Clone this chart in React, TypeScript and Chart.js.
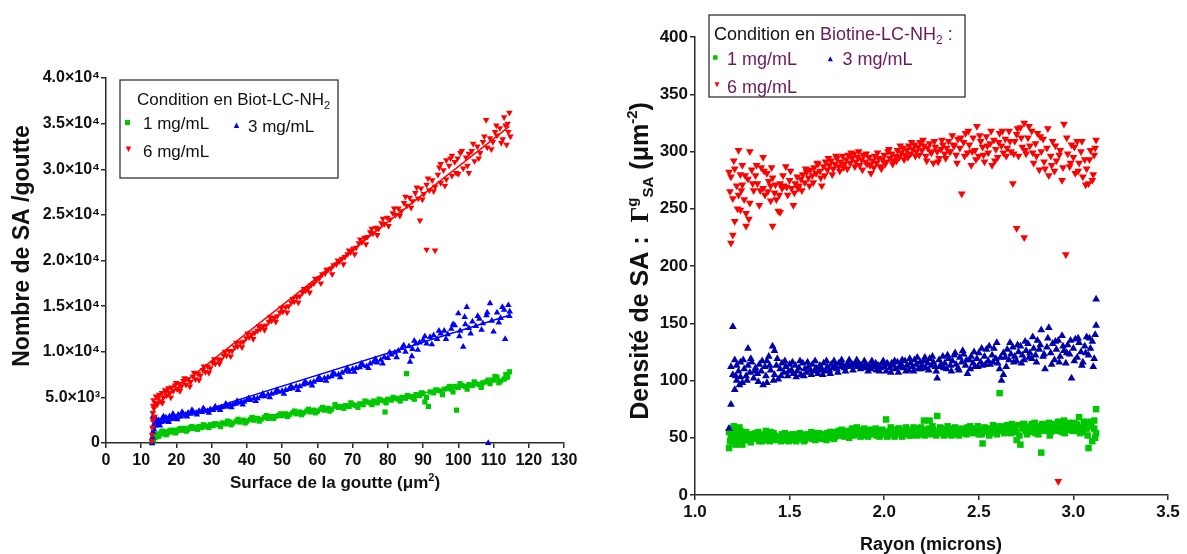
import React, { useEffect, useRef } from 'react';
import { Chart, registerables } from 'chart.js';
Chart.register(...registerables);

const FONT = "'Liberation Sans', Arial, Helvetica, sans-serif";
const SERIF = "'Liberation Serif', 'Times New Roman', serif";

// ---------- Left chart: Nombre de SA / goutte vs Surface ----------
const leftXTickLabels = ['0','10','20','30','40','50','60','70','80','90','100','110','120','130'];
const leftYTickLabels = ['0','5.0×10³','1.0×10⁴','1.5×10⁴','2.0×10⁴','2.5×10⁴','3.0×10⁴','3.5×10⁴','4.0×10⁴'];

const leftGreen: [number, number][] = [
  [13.1,0],[13.2,300],[13.3,700],[13.5,400],[13.7,1000],[14.0,600],[14.4,900],[14.8,700],[15.2,1000],[15.7,1200],
  [16.2,1000],[16.8,1200],[17.4,1100],[18.0,1300],[18.7,1200],[19.4,1400],[20.1,1300],[20.8,1500],[21.6,1400],[22.4,1600],
  [23.2,1500],[24.0,1700],[24.8,1600],[25.6,1700],[26.4,1800],[27.2,1700],[28.0,1900],[28.8,1800],[29.6,2000],[30.4,1900],
  [31.2,2100],[32.0,2000],[33.0,2200],[34.0,2100],[35.0,2300],[36.0,2200],[37.0,2400],[38.0,2300],[39.0,2500],[40.0,2400],
  [41.0,2600],[42.0,2500],[43.0,2700],[44.0,2600],[45.0,2800],[46.0,2700],[47.0,2900],[48.0,2900],[49.0,3000],[50.0,3000],
  [51.0,3200],[52.0,3100],[53.0,3300],[54.0,3200],[55.0,3400],[56.0,3300],[57.0,3500],[58.0,3400],[59.0,3600],[60.0,3500],
  [61.0,3700],[62.0,3600],[63.0,3800],[64.0,3700],[65.0,4200],[66.0,3900],[67.0,4000],[68.0,4100],[69.0,4000],[70.0,4200],
  [71.0,4100],[72.0,4300],[73.0,4200],[74.0,4500],[75.0,4400],[76.0,4600],[77.0,4400],[78.0,4700],[79.0,4600],[79.2,3400],
  [80.0,4800],[81.0,4700],[82.0,4900],[83.0,4800],[84.0,5000],[85.0,4900],[85.3,7600],[86.0,5100],[87.0,5000],[88.0,5300],
  [89.0,5200],[90.0,5400],[90.5,4500],[91.5,4000],[92.0,5600],[93.0,5500],[94.0,5800],[95.0,5700],[96.0,5900],[97.0,6000],
  [98.0,5900],[99.0,6200],[99.5,3600],[100.0,6100],[101.0,6300],[102.0,6200],[103.0,6400],[104.0,6300],[105.0,6500],[106.0,6400],
  [107.0,6600],[108.0,6700],[109.0,6500],[110.0,6900],[110.4,7300],[111.0,7200],[112.0,6800],[113.0,7000],[114.0,7300],[114.5,7800]
];
const leftGreenExtra: [number, number][] = [
  [15.0,800],[16.0,1300],[17.1,900],[18.4,1400],[19.7,1100],[21.2,1600],[22.8,1300],[24.4,1800],[26.0,1500],[27.6,2000],
  [29.2,1700],[30.8,2100],[32.5,1800],[34.5,2400],[35.5,2000],[37.5,2600],[39.5,2200],[41.5,2800],[43.5,2400],[45.5,3000],
  [47.5,2700],[49.5,3200],[51.5,2900],[53.5,3500],[55.5,3100],[57.5,3700],[59.5,3300],[61.5,3900],[63.5,3500],[65.5,4000],
  [67.5,3800],[69.5,4400],[71.5,3900],[73.5,4600],[75.5,4200],[77.5,4800],[79.5,4400],[81.5,5000],[83.5,4600],[85.5,5200],
  [87.5,4800],[89.5,5500],[91.0,5000],[93.5,5800],[95.5,5300],[97.5,6200],[98.5,5600],[100.5,6500],[102.5,5900],[104.5,6700],
  [106.5,6100],[108.5,6900],[111.5,6600],[113.5,7500]
];

const leftBlue: [number, number][] = [
  [13.1,0],[13.2,600],[13.3,1200],[13.4,1800],[13.5,2500],[13.3,2900],[13.6,1500],[13.8,2200],[14.0,1900],[14.3,2600],
  [14.6,2100],[15.0,2500],[15.5,2300],[16.0,2700],[16.5,2400],[17.0,2800],[17.5,2600],[18.0,2900],[18.6,2700],[19.2,3000],
  [19.8,2800],[20.5,3100],[21.2,2900],[21.9,3200],[22.6,3100],[23.3,3300],[24.0,3200],[24.8,3400],[25.6,3300],[26.4,3500],
  [27.2,3400],[28.0,3600],[28.8,3500],[29.6,3700],[30.4,3600],[31.2,3800],[32.0,3800],[32.8,3900],[33.6,4000],[34.4,4000],
  [35.2,4200],[36.0,4200],[36.8,4300],[37.6,4400],[38.4,4500],[39.2,4500],[40.0,4700],[41.0,4700],[42.0,4900],[43.0,4900],
  [44.0,5100],[45.0,5100],[46.0,5300],[47.0,5400],[48.0,5500],[49.0,5600],[50.0,5700],[51.0,5800],[52.0,5900],[53.0,6000],
  [54.0,6200],[55.0,6200],[56.0,6400],[57.0,6500],[58.0,6600],[59.0,6700],[60.0,6900],[61.0,6900],[62.0,7100],[63.0,7200],
  [64.0,7300],[65.0,7500],[66.0,7500],[67.0,7700],[68.0,7900],[69.0,7800],[70.0,8100],[71.0,8200],[72.0,8300],[73.0,8500],
  [74.0,8400],[75.0,8700],[76.0,8900],[77.0,8800],[78.0,9100],[79.0,9400],[80.0,9300],[81.0,9700],[82.0,9900],[83.0,10100],
  [84.0,10400],[85.0,10000],[86.0,10600],[86.3,8900],[86.8,9500],[87.0,10300],[88.0,10900],[89.0,11000],[90.0,11300],[91.0,10900],
  [92.0,11600],[93.0,11800],[94.0,11400],[95.0,12000],[96.0,12300],[97.0,11900],[98.0,12500],[99.0,12900],[100.0,14200],[100.5,12300],
  [101.4,10550],[102.0,13000],[102.4,14900],[103.0,12600],[104.0,13300],[105.0,12800],[106.0,13600],[107.0,13100],[108.0,14000],[108.5,0],
  [109.0,15300],[109.5,13400],[110.0,12200],[111.0,14300],[112.0,13700],[113.3,11400],[113.0,14600],[114.2,15100],[114.5,13900]
];
const leftBlueExtra: [number, number][] = [
  [15.3,1900],[16.3,2900],[17.8,2300],[19.0,3200],[20.2,2600],[21.6,3400],[23.0,2900],[24.4,3600],[25.8,3100],[27.6,3800],
  [29.2,3300],[31.0,4000],[32.4,3600],[34.0,4300],[35.6,3900],[37.2,4600],[38.8,4200],[40.5,4900],[42.5,4600],[44.5,5400],
  [46.5,5000],[48.5,5800],[50.5,5400],[52.5,6200],[54.5,5800],[56.5,6700],[58.5,6300],[60.5,7200],[62.5,6800],[64.5,7700],
  [66.5,7200],[68.5,8200],[70.5,7800],[72.5,8700],[74.5,8200],[76.5,9200],[78.5,8700],[80.5,9900],[82.5,9400],[84.5,10700],
  [87.5,11200],[88.5,10200],[90.5,11700],[92.5,10800],[94.5,12300],[96.5,11400],[98.5,13000],[100.3,11700],[101.8,13800],[103.5,12000],
  [105.5,13900],[106.6,12400],[108.2,14300],[111.5,13200],[112.5,14900],[114.6,14400]
];

const leftRed: [number, number][] = [
  [13.0,200],[13.1,900],[13.2,1700],[13.3,2500],[13.3,3300],[13.4,4100],[13.5,4700],[13.6,3800],[13.8,2900],[14.0,4400],
  [14.2,5100],[14.5,4200],[14.8,4900],[15.1,5300],[15.5,4600],[15.9,5500],[16.3,5000],[16.8,5800],[17.2,5200],[17.7,6000],
  [18.1,5500],[18.6,6100],[19.1,5700],[19.6,6300],[20.2,5900],[20.8,6500],[21.4,6200],[22.0,6800],[22.7,6400],[23.3,7000],
  [24.0,6700],[24.7,7300],[25.4,7000],[26.1,7600],[26.8,7400],[27.5,8000],[28.2,7800],[28.9,8400],[29.6,8200],[30.3,8800],
  [31.0,8700],[31.8,9200],[32.6,9100],[33.4,9600],[34.2,9600],[35.0,10100],[35.8,10100],[36.6,10500],[37.4,10600],[38.2,11000],
  [39.0,11100],[39.8,11500],[40.6,11600],[41.4,11900],[42.2,12100],[43.0,12300],[43.8,12500],[44.6,12800],[45.4,12900],[46.2,13300],
  [47.0,13400],[47.8,13700],[48.6,13900],[49.4,14300],[50.2,14400],[51.0,14900],[51.8,15000],[52.6,15400],[53.4,15500],[54.2,16000],
  [55.0,16100],[55.8,16500],[56.6,16700],[57.4,17000],[58.2,17300],[59.0,17500],[59.8,17900],[60.6,18100],[61.4,18500],[62.2,18600],
  [63.0,19000],[63.8,19100],[64.6,19500],[65.4,19600],[66.2,19900],[67.0,20200],[67.8,20400],[68.6,20700],[69.4,20900],[70.2,21300],
  [71.0,21400],[71.8,21900],[72.6,22000],[73.4,22500],[74.2,22600],[75.0,23100],[75.8,23000],[76.6,23600],[77.4,23500],[78.2,24100],
  [79.0,24000],[79.8,24700],[80.6,24500],[81.4,25200],[82.2,25000],[83.0,25700],[83.8,25400],[84.6,26300],[85.4,26000],[86.2,26900],
  [87.0,26500],[87.8,27400],[88.6,26800],[89.1,24400],[89.4,27900],[90.2,27300],[91.0,21200],[91.0,28300],[91.8,27700],[92.6,28800],
  [93.4,21100],[93.4,28100],[94.2,29400],[95.0,30600],[95.0,28500],[95.8,29900],[96.6,31000],[96.6,28900],[97.4,30400],[98.2,31500],
  [98.2,29300],[99.0,30800],[99.8,31200],[100.0,29500],[100.6,31800],[101.4,30100],[102.2,31300],[103.0,31700],[103.0,29600],[103.8,32000],
  [104.6,30900],[105.4,32500],[106.2,31800],[107.0,33000],[107.9,35400],[108.2,32400],[109.0,33400],[109.8,33000],[110.4,34100],[111.0,33700],
  [111.8,34500],[112.6,33300],[113.4,34800],[113.7,32700],[114.0,35000],[114.5,36200],[114.8,33600]
];
const leftRedExtra: [number, number][] = [
  [16.0,4400],[17.0,5600],[18.4,5000],[19.9,6600],[21.0,5700],[22.3,7100],[23.8,6200],[25.0,7700],[26.4,6900],[27.8,8400],
  [29.2,7700],[30.7,9200],[32.2,8700],[33.8,10000],[35.4,9500],[37.0,11000],[38.6,10500],[40.2,12000],[41.8,11400],[43.4,12800],
  [45.0,12400],[46.6,13800],[48.2,13300],[49.8,14800],[51.4,14300],[53.0,15800],[54.6,15400],[56.2,16900],[57.8,16500],[59.4,18000],
  [61.0,17500],[62.6,19000],[64.2,18500],[65.8,20000],[67.4,19600],[69.0,21100],[70.6,20700],[72.2,22300],[73.8,21800],[75.4,23500],
  [77.0,22800],[78.6,24600],[80.2,23800],[81.8,25700],[83.4,24900],[85.0,27000],[86.6,25800],[88.2,28000],[89.8,26700],[91.4,29000],
  [93.0,27600],[94.6,30200],[96.2,28200],[97.8,31200],[99.4,29600],[101.0,32000],[102.6,30400],[104.2,32800],[105.8,31200],[107.4,33600],
  [109.4,32200],[110.8,34800],[112.2,32900],[113.0,35700],[114.2,34100]
];

const leftGreenFit: [number, number][] = [[13.2, 750], [114.5, 7000]];
const leftBlueFit: [number, number][] = [[13.2, 1800], [114.5, 14000]];
const leftRedFit: [number, number][] = [[13.2, 3900], [114.5, 34700]];

// ---------- Right chart: Densité de SA vs Rayon ----------
const rightXTickLabels = ['1.0','1.5','2.0','2.5','3.0','3.5'];
const rightYTickLabels = ['0','50','100','150','200','250','300','350','400'];

const rightGreen: [number, number][] = [
  [1.18,41],[1.18,55],[1.19,50],[1.19,58],[1.20,46],[1.20,53],[1.21,57],[1.22,49],[1.22,54],[1.23,51],[1.24,47],[1.24,56],[1.25,44],
  [1.25,52],[1.26,50],[1.27,55],[1.28,48],[1.29,53],[1.30,51],[1.31,49],[1.32,54],[1.33,50],[1.34,47],[1.35,52],[1.36,49],[1.37,53],
  [1.38,48],[1.39,51],[1.40,55],[1.41,49],[1.42,52],[1.43,48],[1.44,51],[1.45,50],[1.46,53],[1.47,48],[1.48,51],[1.49,49],[1.50,52],
  [1.51,50],[1.52,48],[1.53,53],[1.54,50],[1.55,49],[1.56,52],[1.57,51],[1.58,48],[1.59,53],[1.60,50],[1.61,52],[1.62,49],[1.63,51],
  [1.64,54],[1.65,50],[1.66,52],[1.67,49],[1.68,53],[1.69,51],[1.70,54],[1.71,50],[1.72,52],[1.73,55],[1.74,51],[1.75,53],[1.76,56],
  [1.77,52],[1.78,54],[1.79,51],[1.80,56],[1.81,53],[1.82,55],[1.83,58],[1.84,52],[1.85,56],[1.86,54],[1.87,57],[1.88,53],[1.89,55],
  [1.90,52],[1.91,56],[1.92,54],[1.93,57],[1.94,53],[1.95,55],[1.96,52],[1.97,56],[1.98,54],[1.99,57],[2.00,53],[2.01,55],[2.01,66],
  [2.02,52],[2.03,56],[2.04,54],[2.05,57],[2.06,53],[2.07,55],[2.08,58],[2.09,54],[2.10,56],[2.11,53],[2.12,57],[2.13,55],[2.14,52],
  [2.15,56],[2.16,54],[2.17,58],[2.18,55],[2.19,53],[2.20,57],[2.21,65],[2.22,54],[2.23,56],[2.24,65],[2.25,53],[2.26,57],[2.27,55],
  [2.28,69],[2.29,54],[2.30,58],[2.31,55],[2.32,53],[2.33,57],[2.34,55],[2.35,58],[2.36,54],[2.37,56],[2.38,53],[2.39,57],[2.40,55],
  [2.41,58],[2.42,54],[2.43,56],[2.44,59],[2.45,55],[2.46,57],[2.47,54],[2.48,58],[2.49,56],[2.50,53],[2.51,57],[2.52,45],[2.53,59],
  [2.54,55],[2.55,58],[2.56,54],[2.57,57],[2.58,60],[2.59,55],[2.60,58],[2.61,89],[2.62,56],[2.63,59],[2.64,55],[2.65,61],[2.66,57],
  [2.67,54],[2.68,60],[2.69,57],[2.70,48],[2.71,61],[2.72,44],[2.73,58],[2.74,62],[2.75,56],[2.76,59],[2.77,55],[2.78,62],[2.79,58],
  [2.80,54],[2.81,60],[2.82,57],[2.83,37],[2.84,61],[2.85,56],[2.86,59],[2.87,63],[2.88,55],[2.89,60],[2.90,57],[2.91,62],[2.92,64],
  [2.93,58],[2.94,55],[2.95,65],[2.96,60],[2.97,57],[2.98,62],[2.99,58],[3.00,63],[3.01,56],[3.02,61],[3.03,68],[3.04,59],[3.05,55],
  [3.06,62],[3.07,58],[3.08,41],[3.09,64],[3.10,47],[3.11,58],[3.12,54],[3.12,75],[3.11,65]
];
const rightGreenExtra: [number, number][] = [
  [1.185,47],[1.205,60],[1.215,44],[1.235,59],[1.255,48],[1.275,51],[1.295,46],[1.315,53],[1.335,55],[1.355,47],[1.375,56],[1.395,47],
  [1.415,54],[1.435,50],[1.455,47],[1.475,54],[1.495,47],[1.515,53],[1.535,47],[1.555,54],[1.575,47],[1.595,51],[1.615,55],[1.635,48],
  [1.655,54],[1.675,51],[1.695,48],[1.715,55],[1.735,49],[1.755,52],[1.775,57],[1.795,53],[1.815,50],[1.835,54],[1.855,59],[1.875,51],
  [1.895,58],[1.915,51],[1.935,55],[1.955,58],[1.975,51],[1.995,55],[2.015,51],[2.035,59],[2.055,51],[2.075,58],[2.095,51],[2.115,59],
  [2.135,52],[2.155,59],[2.175,52],[2.195,59],[2.215,52],[2.235,58],[2.255,60],[2.275,52],[2.295,59],[2.315,52],[2.335,60],[2.355,52],
  [2.375,59],[2.395,52],[2.415,55],[2.435,53],[2.455,60],[2.475,57],[2.495,60],[2.515,53],[2.535,56],[2.555,52],[2.575,61],[2.595,53],
  [2.615,60],[2.635,54],[2.655,58],[2.675,62],[2.695,55],[2.715,52],[2.735,62],[2.755,53],[2.775,60],[2.795,63],[2.815,53],[2.835,62],
  [2.855,58],[2.875,52],[2.895,62],[2.915,56],[2.935,61],[2.955,54],[2.975,63],[2.995,56],[3.015,62],[3.035,54],[3.055,64],[3.075,52],
  [3.095,60],[3.115,50]
];

const rightBlue: [number, number][] = [
  [1.18,58],[1.19,79],[1.19,112],[1.20,147],[1.20,105],[1.21,92],[1.21,118],[1.22,100],[1.22,113],[1.23,108],[1.24,103],[1.24,116],
  [1.25,98],[1.26,110],[1.27,104],[1.28,128],[1.28,113],[1.29,107],[1.30,116],[1.31,102],[1.32,111],[1.33,106],[1.34,114],[1.35,108],
  [1.36,96],[1.37,112],[1.38,98],[1.38,117],[1.39,121],[1.40,109],[1.41,130],[1.42,126],[1.42,105],[1.43,113],[1.44,101],[1.45,110],
  [1.46,115],[1.47,107],[1.48,112],[1.49,104],[1.50,114],[1.51,109],[1.52,106],[1.53,113],[1.54,108],[1.55,111],[1.56,105],[1.57,115],
  [1.58,110],[1.59,107],[1.60,112],[1.61,109],[1.62,114],[1.63,108],[1.64,111],[1.65,106],[1.66,113],[1.67,110],[1.68,115],[1.69,108],
  [1.70,112],[1.71,109],[1.72,114],[1.73,111],[1.74,113],[1.75,110],[1.76,115],[1.77,112],[1.78,114],[1.79,111],[1.80,113],[1.81,115],
  [1.82,112],[1.83,114],[1.84,113],[1.85,115],[1.86,112],[1.87,114],[1.88,113],[1.89,111],[1.90,114],[1.91,112],[1.92,113],[1.93,110],
  [1.94,114],[1.95,112],[1.96,109],[1.97,113],[1.98,111],[1.99,115],[2.00,112],[2.01,108],[2.02,114],[2.03,111],[2.04,115],[2.05,113],
  [2.06,110],[2.07,116],[2.08,112],[2.09,114],[2.10,111],[2.11,117],[2.12,113],[2.13,109],[2.14,115],[2.15,112],[2.16,118],[2.17,114],
  [2.18,110],[2.19,116],[2.20,113],[2.21,117],[2.22,111],[2.23,115],[2.24,119],[2.25,113],[2.26,116],[2.27,112],[2.28,102],[2.29,118],
  [2.30,114],[2.31,121],[2.32,115],[2.33,110],[2.34,119],[2.35,113],[2.36,117],[2.37,122],[2.38,114],[2.39,111],[2.40,120],[2.41,116],
  [2.42,123],[2.43,113],[2.44,106],[2.45,118],[2.46,121],[2.47,115],[2.48,112],[2.49,119],[2.50,124],[2.51,116],[2.52,113],[2.53,121],
  [2.54,127],[2.55,117],[2.56,114],[2.57,122],[2.58,128],[2.59,119],[2.60,115],[2.61,110],[2.62,100],[2.63,105],[2.63,124],[2.64,120],
  [2.65,127],[2.66,118],[2.67,123],[2.68,129],[2.69,121],[2.70,117],[2.71,125],[2.72,130],[2.73,122],[2.74,118],[2.75,126],[2.76,132],
  [2.77,124],[2.78,119],[2.79,128],[2.80,122],[2.81,135],[2.82,127],[2.83,144],[2.84,121],[2.85,110],[2.86,129],[2.87,146],[2.88,124],
  [2.89,132],[2.90,118],[2.91,127],[2.92,135],[2.93,121],[2.94,139],[2.95,126],[2.96,115],[2.97,131],[2.98,123],[2.99,102],[3.00,128],
  [3.01,136],[3.02,120],[3.03,133],[3.04,125],[3.05,116],[3.06,130],[3.07,138],[3.08,122],[3.09,128],[3.10,134],[3.11,119],[3.12,148],
  [3.12,171]
];
const rightBlueExtra: [number, number][] = [
  [1.215,104],[1.235,96],[1.255,118],[1.275,100],[1.295,119],[1.315,108],[1.335,99],[1.355,117],[1.375,104],[1.395,113],[1.415,100],
  [1.435,119],[1.455,104],[1.475,117],[1.495,108],[1.515,116],[1.535,103],[1.555,117],[1.575,104],[1.595,116],[1.615,105],[1.635,117],
  [1.655,109],[1.675,105],[1.695,117],[1.715,106],[1.735,117],[1.755,107],[1.775,118],[1.795,108],[1.815,118],[1.835,109],[1.855,118],
  [1.875,110],[1.895,117],[1.915,108],[1.935,117],[1.955,115],[1.975,108],[1.995,117],[2.015,115],[2.035,107],[2.055,117],[2.075,107],
  [2.095,118],[2.115,108],[2.135,119],[2.155,108],[2.175,120],[2.195,110],[2.215,120],[2.235,109],[2.255,121],[2.275,108],[2.295,112],
  [2.315,111],[2.335,122],[2.355,108],[2.375,124],[2.395,109],[2.415,126],[2.435,118],[2.455,110],[2.475,125],[2.495,112],[2.515,128],
  [2.535,114],[2.555,130],[2.575,116],[2.595,133],[2.615,120],[2.645,112],[2.665,133],[2.685,116],[2.705,131],[2.725,115],[2.745,134],
  [2.765,120],[2.785,138],[2.805,116],[2.825,131],[2.845,123],[2.865,137],[2.885,114],[2.905,134],[2.925,116],[2.945,130],[2.965,124],
  [2.985,135],[3.005,117],[3.025,137],[3.045,113],[3.065,124],[3.085,137],[3.105,112],[3.115,140]
];

const rightRed: [number, number][] = [
  [1.18,282],[1.19,220],[1.19,278],[1.20,227],[1.20,259],[1.21,239],[1.21,285],[1.22,270],[1.23,301],[1.23,262],[1.24,280],[1.24,249],
  [1.25,288],[1.25,271],[1.26,258],[1.27,246],[1.27,235],[1.28,276],[1.29,300],[1.29,255],[1.30,284],[1.31,266],[1.32,279],[1.33,272],
  [1.34,253],[1.35,286],[1.36,295],[1.36,268],[1.37,262],[1.38,281],[1.39,274],[1.40,270],[1.40,257],[1.41,277],[1.41,235],[1.42,264],
  [1.43,258],[1.44,248],[1.45,247],[1.45,272],[1.46,268],[1.47,270],[1.48,287],[1.49,262],[1.50,275],[1.51,268],[1.52,253],[1.53,272],
  [1.54,278],[1.55,270],[1.56,276],[1.57,280],[1.58,273],[1.59,282],[1.60,277],[1.61,284],[1.62,279],[1.63,286],[1.64,281],[1.65,289],
  [1.66,283],[1.67,270],[1.68,287],[1.69,291],[1.70,284],[1.71,288],[1.72,292],[1.73,285],[1.74,289],[1.75,294],[1.76,287],[1.77,291],
  [1.78,296],[1.79,289],[1.80,293],[1.81,297],[1.82,290],[1.83,294],[1.84,298],[1.85,291],[1.86,295],[1.87,288],[1.88,293],[1.89,297],
  [1.90,291],[1.91,289],[1.92,295],[1.93,281],[1.94,292],[1.95,296],[1.96,290],[1.97,294],[1.98,287],[1.99,293],[2.00,297],[2.01,291],
  [2.02,300],[2.03,294],[2.04,298],[2.05,292],[2.06,296],[2.07,301],[2.08,295],[2.09,299],[2.10,303],[2.11,297],[2.12,301],[2.13,305],
  [2.14,298],[2.15,302],[2.16,306],[2.17,300],[2.18,304],[2.19,308],[2.20,301],[2.21,305],[2.22,296],[2.23,303],[2.24,307],[2.25,299],
  [2.26,290],[2.27,304],[2.28,300],[2.29,294],[2.30,302],[2.31,306],[2.32,298],[2.33,303],[2.34,309],[2.35,300],[2.36,314],[2.37,305],
  [2.38,297],[2.39,311],[2.40,303],[2.41,263],[2.42,308],[2.43,316],[2.44,299],[2.45,306],[2.46,288],[2.47,312],[2.48,301],[2.49,322],
  [2.50,296],[2.51,309],[2.52,304],[2.53,291],[2.54,313],[2.55,299],[2.56,307],[2.57,288],[2.58,310],[2.59,302],[2.60,295],[2.61,316],
  [2.62,305],[2.63,299],[2.64,311],[2.65,303],[2.66,318],[2.67,300],[2.68,272],[2.69,309],[2.70,233],[2.70,315],[2.71,296],[2.72,321],
  [2.73,304],[2.74,225],[2.74,325],[2.75,298],[2.76,312],[2.77,305],[2.78,318],[2.79,290],[2.80,307],[2.81,316],[2.82,284],[2.83,300],
  [2.84,311],[2.85,285],[2.86,303],[2.87,279],[2.88,296],[2.89,309],[2.90,283],[2.91,292],[2.92,12],[2.93,301],[2.94,275],[2.95,324],
  [2.96,210],[2.97,298],[2.98,287],[2.99,306],[3.00,295],[3.01,281],[3.02,309],[3.03,290],[3.04,300],[3.05,278],[3.06,293],[3.07,285],
  [3.08,272],[3.09,301],[3.10,275],[3.11,297],[3.12,310]
];
const rightRedExtra: [number, number][] = [
  [1.185,265],[1.205,292],[1.225,250],[1.245,266],[1.265,279],[1.285,241],[1.305,272],[1.325,288],[1.345,266],[1.365,283],[1.385,265],
  [1.405,286],[1.425,271],[1.445,262],[1.465,279],[1.485,269],[1.505,283],[1.525,264],[1.545,268],[1.565,266],[1.585,285],[1.605,270],
  [1.625,273],[1.645,290],[1.665,277],[1.685,279],[1.705,294],[1.725,280],[1.745,296],[1.765,283],[1.785,286],[1.805,285],[1.825,299],
  [1.845,287],[1.865,300],[1.885,284],[1.905,298],[1.925,288],[1.945,286],[1.965,299],[1.985,285],[2.005,289],[2.025,302],[2.045,289],
  [2.065,292],[2.085,305],[2.105,293],[2.125,295],[2.145,308],[2.165,296],[2.185,297],[2.205,310],[2.225,292],[2.245,300],[2.265,309],
  [2.285,291],[2.305,310],[2.325,294],[2.345,300],[2.365,306],[2.385,290],[2.405,312],[2.425,296],[2.445,318],[2.465,300],[2.485,293],
  [2.505,314],[2.525,297],[2.545,305],[2.565,318],[2.585,292],[2.605,308],[2.625,318],[2.645,296],[2.665,309],[2.685,298],[2.705,320],
  [2.725,312],[2.745,301],[2.765,322],[2.785,299],[2.805,296],[2.825,313],[2.845,291],[2.865,320],[2.885,288],[2.905,305],[2.925,297],
  [2.945,286],[2.965,312],[2.985,290],[3.005,304],[3.025,283],[3.045,309],[3.065,271],[3.085,293],[3.105,280],[3.115,303]
];

// ---------- colours ----------
const GREEN = 'rgb(0,200,0)';
const BLUE_L = 'rgb(0,0,255)';
const BLUE_R = 'rgb(0,0,170)';
const RED = 'rgb(255,0,0)';
const PURPLE = 'rgb(105,25,90)';
const AXIS = '#2a2a2a';
const TXT = '#111';

type Run = { t: string; size: number; bold?: boolean; family?: string; dy?: number; color?: string };
const runFont = (r: Run) => `${r.bold ? 'bold ' : ''}${r.size}px ${r.family || FONT}`;

function drawRuns(ctx: CanvasRenderingContext2D, runs: Run[], x: number, y: number, align: 'left' | 'center', rotate = false) {
  ctx.save();
  ctx.textBaseline = 'alphabetic';
  ctx.textAlign = 'left';
  let w = 0;
  for (const r of runs) { ctx.font = runFont(r); w += ctx.measureText(r.t).width; }
  ctx.translate(x, y);
  if (rotate) ctx.rotate(-Math.PI / 2);
  let cx = align === 'center' ? -w / 2 : 0;
  for (const r of runs) {
    ctx.font = runFont(r);
    ctx.fillStyle = r.color || TXT;
    ctx.fillText(r.t, cx, r.dy || 0);
    cx += ctx.measureText(r.t).width;
  }
  ctx.restore();
}

function marker(ctx: CanvasRenderingContext2D, kind: 'sq' | 'up' | 'down', x: number, y: number, s: number, color: string) {
  ctx.save();
  ctx.fillStyle = color;
  ctx.beginPath();
  if (kind === 'sq') {
    ctx.rect(x - s / 2, y - s / 2, s, s);
  } else if (kind === 'up') {
    ctx.moveTo(x, y - s * 0.55); ctx.lineTo(x + s / 2, y + s * 0.45); ctx.lineTo(x - s / 2, y + s * 0.45);
  } else {
    ctx.moveTo(x, y + s * 0.55); ctx.lineTo(x + s / 2, y - s * 0.45); ctx.lineTo(x - s / 2, y - s * 0.45);
  }
  ctx.closePath();
  ctx.fill();
  ctx.restore();
}

const pts = (a: [number, number][]) => a.map(([x, y]) => ({ x, y }));

function axisCommon(size: number, pad: number) {
  return {
    grid: { drawOnChartArea: false, drawTicks: true, tickLength: 5, color: AXIS, lineWidth: 1.5 },
    border: { display: true, color: AXIS, width: 1.5 },
    ticks: { font: { family: FONT, size, weight: 'bold' as const }, color: TXT, padding: pad, autoSkip: false, maxRotation: 0 },
  };
}

const leftDecor = {
  id: 'leftDecor',
  afterDraw(chart: any) {
    const ctx: CanvasRenderingContext2D = chart.ctx;
    drawRuns(ctx, [{ t: 'Nombre de SA /goutte', size: 23, bold: true }], 29, 246, 'center', true);
    drawRuns(ctx, [
      { t: 'Surface de la goutte (μm', size: 17, bold: true },
      { t: '2', size: 11, bold: true, dy: -7 },
      { t: ')', size: 17, bold: true },
    ], 335, 488, 'center');
    ctx.save();
    ctx.strokeStyle = '#333';
    ctx.lineWidth = 1.3;
    ctx.fillStyle = '#fff';
    ctx.fillRect(120, 80, 218, 98);
    ctx.strokeRect(120, 80, 218, 98);
    ctx.restore();
    drawRuns(ctx, [
      { t: 'Condition en Biot-LC-NH', size: 17 },
      { t: '2', size: 11, dy: 4 },
    ], 137, 105, 'left');
    marker(ctx, 'sq', 127.5, 122.5, 5, GREEN);
    drawRuns(ctx, [{ t: '1 mg/mL', size: 17 }], 143, 129, 'left');
    marker(ctx, 'up', 236.5, 125.5, 5.5, BLUE_L);
    drawRuns(ctx, [{ t: '3 mg/mL', size: 17 }], 248, 132, 'left');
    marker(ctx, 'down', 128.5, 149, 5.5, RED);
    drawRuns(ctx, [{ t: '6 mg/mL', size: 17 }], 143, 157, 'left');
  },
};

const rightDecor = {
  id: 'rightDecor',
  afterDraw(chart: any) {
    const ctx: CanvasRenderingContext2D = chart.ctx;
    drawRuns(ctx, [
      { t: 'Densité de SA :  ', size: 25, bold: true },
      { t: 'Γ', size: 25, bold: true, family: SERIF },
      { t: 'g', size: 15, bold: true, dy: -11 },
      { t: 'SA', size: 15, bold: true, dy: 5 },
      { t: ' (μm', size: 25, bold: true },
      { t: '-2', size: 15, bold: true, dy: -11 },
      { t: ')', size: 25, bold: true },
    ], 48, 261, 'center', true);
    drawRuns(ctx, [{ t: 'Rayon (microns)', size: 18, bold: true }], 331, 550, 'center');
    ctx.save();
    ctx.strokeStyle = '#333';
    ctx.lineWidth = 1.3;
    ctx.fillStyle = '#fff';
    ctx.fillRect(109, 15, 256, 82);
    ctx.strokeRect(109, 15, 256, 82);
    ctx.restore();
    drawRuns(ctx, [
      { t: 'Condition en ', size: 18 },
      { t: 'Biotine-LC-NH', size: 18, color: PURPLE },
      { t: '2', size: 12, dy: 4, color: PURPLE },
      { t: ' :', size: 18, color: PURPLE },
    ], 114, 40, 'left');
    marker(ctx, 'sq', 115.3, 57.5, 4.5, GREEN);
    drawRuns(ctx, [{ t: '1 mg/mL', size: 18, color: PURPLE }], 127, 65, 'left');
    marker(ctx, 'up', 230.3, 59, 5, BLUE_R);
    drawRuns(ctx, [{ t: '3 mg/mL', size: 18, color: PURPLE }], 242.5, 65, 'left');
    marker(ctx, 'down', 117, 84.5, 5, RED);
    drawRuns(ctx, [{ t: '6 mg/mL', size: 18, color: PURPLE }], 127, 93, 'left');
  },
};

function leftConfig(): any {
  const xa = axisCommon(16, 3);
  const ya = axisCommon(16, 1);
  return {
    type: 'scatter',
    data: {
      datasets: [
        { data: pts(leftRedFit), showLine: true, pointRadius: 0, borderColor: RED, borderWidth: 1.4, order: 2, clip: false },
        { data: pts(leftBlueFit), showLine: true, pointRadius: 0, borderColor: BLUE_L, borderWidth: 1.4, order: 2, clip: false },
        { data: pts(leftGreenFit), showLine: true, pointRadius: 0, borderColor: GREEN, borderWidth: 1.4, order: 2, clip: false },
        { label: '6 mg/mL', data: pts([...leftRed, ...leftRedExtra]), pointStyle: 'triangle', pointRotation: 180, pointRadius: 3.8, pointBackgroundColor: RED, pointBorderWidth: 0, order: 1, clip: false },
        { label: '3 mg/mL', data: pts([...leftBlue, ...leftBlueExtra]), pointStyle: 'triangle', pointRadius: 3.8, pointBackgroundColor: BLUE_L, pointBorderWidth: 0, order: 1, clip: false },
        { label: '1 mg/mL', data: pts([...leftGreen, ...leftGreenExtra]), pointStyle: 'rect', pointRadius: 3.7, pointBackgroundColor: GREEN, pointBorderWidth: 0, order: 1, clip: false },
      ],
    },
    options: {
      responsive: false,
      animation: false,
      events: [],
      devicePixelRatio: 1,
      layout: { padding: { top: 78, left: 0, right: 36, bottom: 71 } },
      plugins: { legend: { display: false }, tooltip: { enabled: false } },
      scales: {
        x: {
          type: 'linear', min: 0, max: 130,
          ...xa,
          ticks: { ...xa.ticks, stepSize: 10, callback: (v: number) => leftXTickLabels[Math.round(v / 10)] ?? '' },
          afterFit: (s: any) => { s.height = 40; },
        },
        y: {
          type: 'linear', min: 0, max: 40000,
          ...ya,
          ticks: { ...ya.ticks, stepSize: 5000, callback: (v: number) => leftYTickLabels[Math.round(v / 5000)] ?? '' },
          afterFit: (s: any) => { s.width = 106; },
        },
      },
    },
    plugins: [leftDecor],
  };
}

function rightConfig(): any {
  const xa = axisCommon(17, 2);
  const ya = axisCommon(17, 2);
  return {
    type: 'scatter',
    data: {
      datasets: [
        { label: '6 mg/mL', data: pts([...rightRed, ...rightRedExtra]), pointStyle: 'triangle', pointRotation: 180, pointRadius: 4.5, pointBackgroundColor: RED, pointBorderWidth: 0, clip: false },
        { label: '3 mg/mL', data: pts([...rightBlue, ...rightBlueExtra]), pointStyle: 'triangle', pointRadius: 4.5, pointBackgroundColor: BLUE_R, pointBorderWidth: 0, clip: false },
        { label: '1 mg/mL', data: pts([...rightGreen, ...rightGreenExtra]), pointStyle: 'rect', pointRadius: 4.6, pointBackgroundColor: GREEN, pointBorderWidth: 0, clip: false },
      ],
    },
    options: {
      responsive: false,
      animation: false,
      events: [],
      devicePixelRatio: 1,
      layout: { padding: { top: 37, left: 0, right: 19, bottom: 19 } },
      plugins: { legend: { display: false }, tooltip: { enabled: false } },
      scales: {
        x: {
          type: 'linear', min: 1, max: 3.5,
          ...xa,
          ticks: { ...xa.ticks, stepSize: 0.5, callback: (v: number) => rightXTickLabels[Math.round((v - 1) / 0.5)] ?? '' },
          afterFit: (s: any) => { s.height = 40; },
        },
        y: {
          type: 'linear', min: 0, max: 400,
          ...ya,
          ticks: { ...ya.ticks, stepSize: 50, callback: (v: number) => rightYTickLabels[Math.round(v / 50)] ?? '' },
          afterFit: (s: any) => { s.width = 95; },
        },
      },
    },
    plugins: [rightDecor],
  };
}

export default function App() {
  const leftRef = useRef<HTMLCanvasElement>(null);
  const rightRef = useRef<HTMLCanvasElement>(null);
  useEffect(() => {
    const c1 = new Chart(leftRef.current as HTMLCanvasElement, leftConfig());
    const c2 = new Chart(rightRef.current as HTMLCanvasElement, rightConfig());
    return () => { c1.destroy(); c2.destroy(); };
  }, []);
  return (
    <div style={{ position: 'absolute', left: 0, top: 0, width: 1187, height: 554, background: '#fff', overflow: 'hidden' }}>
      <canvas ref={leftRef} width={600} height={554} style={{ position: 'absolute', left: 0, top: 0, width: 600, height: 554 }} />
      <canvas ref={rightRef} width={587} height={554} style={{ position: 'absolute', left: 600, top: 0, width: 587, height: 554 }} />
    </div>
  );
}
